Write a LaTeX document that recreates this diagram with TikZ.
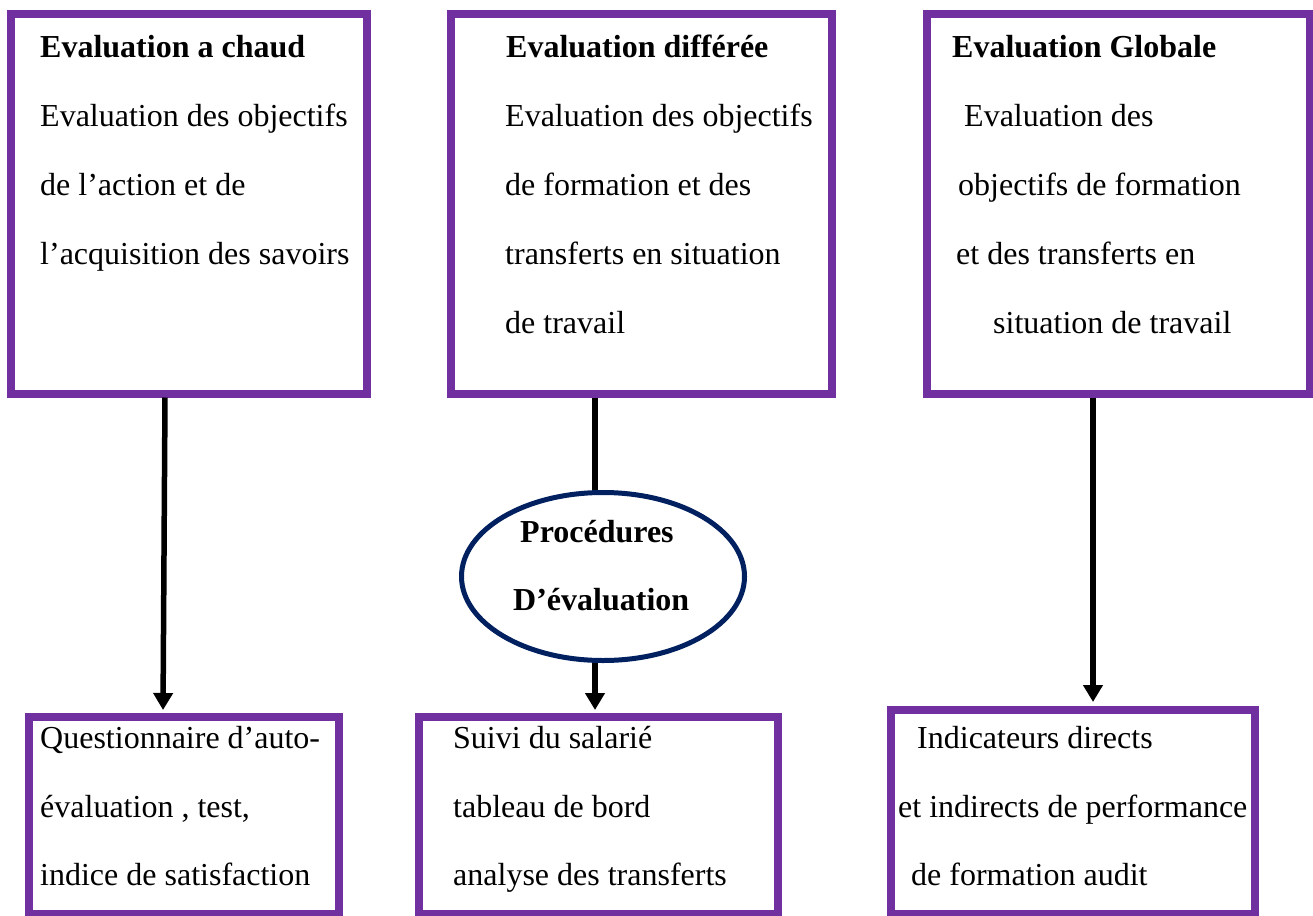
\documentclass[tikz,border=0pt]{standalone}
\usepackage{fontspec}
\setmainfont{Liberation Serif}
\usetikzlibrary{shapes.geometric,arrows.meta}
\definecolor{boxpurple}{HTML}{7030A0}
\definecolor{navy}{HTML}{002060}
\begin{document}
\begin{tikzpicture}[x=1pt,y=-1pt,
  framebox/.style={draw=boxpurple,line width=8pt,rectangle,inner sep=0pt},
  txt/.style={anchor=base west,inner sep=0pt,font=\fontsize{32}{38}\selectfont},
  ttl/.style={txt,font=\fontsize{32}{38}\selectfont\bfseries},
  link/.style={line width=5.5pt,black},
  flow/.style={link,-{Triangle[width=19pt,length=17pt]}}]
\useasboundingbox (0,0) rectangle (1313,915);

% upper boxes
\node[framebox,minimum width=356pt,minimum height=379.5pt] (b1) at (189,203.75) {};
\node[framebox,minimum width=381pt,minimum height=379.5pt] (b2) at (641.5,203.75) {};
\node[framebox,minimum width=382.5pt,minimum height=379.5pt] (b3) at (1118.25,203.75) {};

% lower boxes
\node[framebox,minimum width=310pt,minimum height=197pt] (c1) at (184,815.5) {};
\node[framebox,minimum width=359pt,minimum height=197pt] (c2) at (598.5,815.5) {};
\node[framebox,minimum width=364pt,minimum height=204pt] (c3) at (1073,812) {};

% central ellipse
\node[ellipse,draw=navy,line width=5pt,minimum width=283pt,minimum height=168pt,inner sep=0pt] (e) at (603,576.5) {};

% texts of the first box
\node[ttl] (t1) at (40,58) {Evaluation a chaud};
\node[txt] (t1a) at (40,126) {Evaluation des objectifs};
\node[txt] (t1b) at (40,195) {de l’action et de};
\node[txt] (t1c) at (40,264) {l’acquisition des savoirs};

% texts of the second box
\node[ttl] (t2) at (506,58) {Evaluation différée};
\node[txt] (t2a) at (505,126) {Evaluation des objectifs};
\node[txt] (t2b) at (505,195) {de formation et des};
\node[txt] (t2c) at (505,264) {transferts en situation};
\node[txt] (t2d) at (505,333) {de travail};

% texts of the third box
\node[ttl] (t3) at (952,58) {Evaluation Globale};
\node[txt] (t3a) at (964,126) {Evaluation des};
\node[txt] (t3b) at (958,195) {objectifs de formation};
\node[txt] (t3c) at (956,264) {et des transferts en};
\node[txt] (t3d) at (993,333) {situation de travail};

% ellipse text
\node[ttl] (p1) at (520,542) {Procédures};
\node[ttl] (p2) at (513,610) {D’évaluation};

% lower texts
\node[txt] (u1a) at (40,748) {Questionnaire d’auto-};
\node[txt] (u1b) at (40,817) {évaluation , test,};
\node[txt] (u1c) at (40,885) {indice de satisfaction};

\node[txt] (u2a) at (453,748) {Suivi du salarié};
\node[txt] (u2b) at (453,817) {tableau de bord};
\node[txt] (u2c) at (453,885) {analyse des transferts};

\node[txt] (u3a) at (917,748) {Indicateurs directs};
\node[txt] (u3b) at (898,817) {et indirects de performance};
\node[txt] (u3c) at (911,885) {de formation audit};

% connectors
\draw[flow,shorten >=3pt] ([xshift=-24pt]b1.south) -- ([xshift=-21pt]c1.north);
\draw[link] ([xshift=-46.5pt]b2.south) -- ([xshift=-46.5pt]b2.south |- e.north);
\draw[flow,shorten >=3pt] ([xshift=-8pt]e.south) -- ([xshift=-3.5pt]c2.north);
\draw[flow,shorten >=4pt] ([xshift=-25.25pt]b3.south) -- ([xshift=20pt]c3.north);
\end{tikzpicture}
\end{document}
